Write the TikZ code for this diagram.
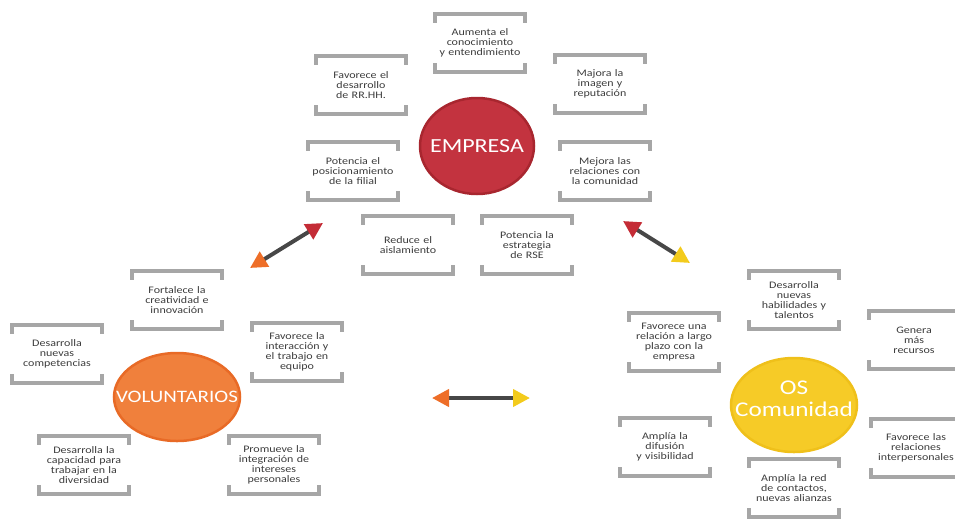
\documentclass[tikz,border=0pt]{standalone}
\usepackage{fontspec}
\setmainfont{Carlito}[FakeStretch=1.2]
\usetikzlibrary{arrows.meta,calc}
\definecolor{brgray}{HTML}{A6A6A6}
\definecolor{txtgray}{HTML}{3C3C3C}
\definecolor{shaftgray}{HTML}{474747}
\definecolor{empfill}{HTML}{C3333F}
\definecolor{empdraw}{HTML}{A8262F}
\definecolor{volfill}{HTML}{F0803C}
\definecolor{voldraw}{HTML}{E86A26}
\definecolor{comfill}{HTML}{F6CB27}
\definecolor{comdraw}{HTML}{EFC01A}
\definecolor{redH}{HTML}{C42C36}
\definecolor{orangeH}{HTML}{EE6E28}
\definecolor{yellowH}{HTML}{F3CB1C}
\begin{document}
\begin{tikzpicture}[x=1pt,y=-1pt,
  bx/.style={minimum width=90pt, minimum height=58pt, inner sep=0pt, text width=90pt,
    align=center, font=\fontsize{10}{10}\selectfont, text=txtgray},
  br/.style={draw=brgray, line width=4pt},
  hubline/.style={line width=2.5pt},
  hubtext/.style={inner sep=0pt, text=white, align=center},
  shaft/.style={draw=shaftgray, line width=4pt},
]
\useasboundingbox (0,0) rectangle (955,520);

% EMPRESA cluster
\coordinate (empc) at (477,146);
\draw[hubline, fill=empfill, draw=empdraw] (empc) ellipse [x radius=57, y radius=48];
\node[hubtext, font=\fontsize{20}{22}\selectfont] (emp) at (empc) {EMPRESA};
\node[bx] (e1) at (480,43) {Aumenta el\\conocimiento\\y entendimiento};
\node[bx] (e2) at (361,85) {Favorece el\\desarrollo\\de RR.HH.};
\node[bx] (e3) at (600,84) {Majora la\\imagen y\\reputación};
\node[bx] (e4) at (353,171) {Potencia el\\posicionamiento\\de la filial};
\node[bx] (e5) at (605,171) {Mejora las\\relaciones con\\la comunidad};
\node[bx] (e6) at (408,245) {Reduce el\\aislamiento};
\node[bx] (e7) at (527,245) {Potencia la\\estrategia\\de RSE};

% VOLUNTARIOS cluster
\coordinate (volc) at (177,397);
\draw[hubline, fill=volfill, draw=voldraw] (volc) ellipse [x radius=63, y radius=44];
\node[hubtext, font=\fontsize{17.5}{19}\selectfont] (vol) at (volc) {VOLUNTARIOS};
\node[bx] (v1) at (177,300) {Fortalece la\\creatividad e\\innovación};
\node[bx] (v2) at (57,354) {Desarrolla\\nuevas\\competencias};
\node[bx] (v3) at (297,352) {Favorece la\\interacción y\\el trabajo en\\equipo};
\node[bx] (v4) at (84,465) {Desarrolla la\\capacidad para\\trabajar en la\\diversidad};
\node[bx] (v5) at (274,465) {Promueve la\\integración de\\intereses\\personales};

% OS Comunidad cluster
\coordinate (comc) at (794,405);
\draw[hubline, fill=comfill, draw=comdraw] (comc) ellipse [x radius=63, y radius=47];
\node[hubtext, font=\fontsize{21}{22}\selectfont] (com) at (794,399) {OS\\Comunidad};
\node[bx] (c1) at (794,300) {Desarrolla\\nuevas\\habilidades y\\talentos};
\node[bx] (c2) at (674,342) {Favorece una\\relación a largo\\plazo con la\\empresa};
\node[bx] (c3) at (914,340) {Genera\\más\\recursos};
\node[bx] (c4) at (665,447) {Amplía la\\difusión\\y visibilidad};
\node[bx] (c5) at (916,448) {Favorece las\\relaciones\\interpersonales};
\node[bx] (c6) at (794,488) {Amplía la red\\de contactos,\\nuevas alianzas};

% brackets
\foreach \n in {e1,e2,e3,e4,e5,e6,e7,v1,v2,v3,v4,v5,c1,c2,c3,c4,c5,c6}{
  \draw[br] ($(\n.north west)+(0,9)$) -- (\n.north west) -- (\n.north east) -- ($(\n.north east)+(0,9)$);
  \draw[br] ($(\n.south west)+(0,-9)$) -- (\n.south west) -- (\n.south east) -- ($(\n.south east)+(0,-9)$);
}

% double arrows
\coordinate (a1s) at (250,268);
\coordinate (a1e) at (323,223);
\coordinate (a2s) at (432,398);
\coordinate (a2e) at (530,398);
\coordinate (a3s) at (623,221);
\coordinate (a3e) at (690,263);
\draw[shaft, {Triangle[length=17pt,width=17pt,color=orangeH]}-{Triangle[length=17pt,width=17pt,color=redH]}] (a1s) -- (a1e);
\draw[shaft, {Triangle[length=17pt,width=17pt,color=orangeH]}-{Triangle[length=17pt,width=17pt,color=yellowH]}] (a2s) -- (a2e);
\draw[shaft, {Triangle[length=17pt,width=17pt,color=redH]}-{Triangle[length=17pt,width=17pt,color=yellowH]}] (a3s) -- (a3e);
\end{tikzpicture}
\end{document}
